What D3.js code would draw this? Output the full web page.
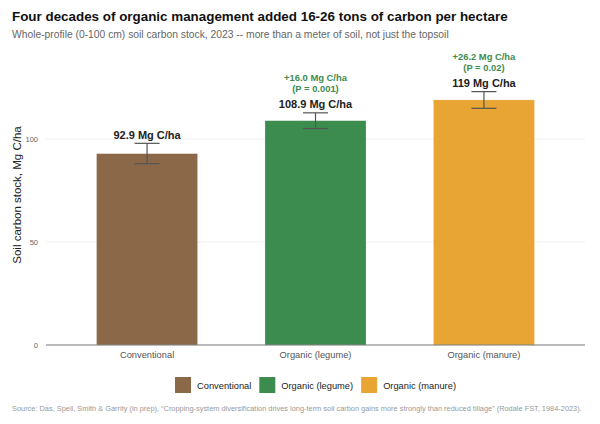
<!DOCTYPE html>
<html>
<head>
<meta charset="UTF-8">
<title>Soil carbon stock</title>
<script src="https://d3js.org/d3.v7.min.js"></script>
<style>
  body { margin: 0; background: #fff; }
  svg text { font-family: "Liberation Sans", Arial, sans-serif; }
</style>
</head>
<body>
<div id="chart"></div>
<script>
const categories = ["Conventional", "Organic (legume)", "Organic (manure)"];
const means = [92.9, 108.9, 119];
const errLow = [88.0, 105.1, 114.9];
const errHigh = [97.9, 112.7, 123.0];
const valueLabels = ["92.9 Mg C/ha", "108.9 Mg C/ha", "119 Mg C/ha"];
const gainLabels = ["", "+16.0 Mg C/ha", "+26.2 Mg C/ha"];
const pLabels = ["", "(P = 0.001)", "(P = 0.02)"];
const yTicks = [0, 50, 100];
const colors = ["#8B6848", "#3D8C4F", "#E8A534"];

const width = 600, height = 424;
const plot = {left: 46, right: 585, top: 139, bottom: 345};

const svg = d3.select("#chart").append("svg")
    .attr("width", width)
    .attr("height", height);

// Title + subtitle
svg.append("text")
    .attr("x", 12).attr("y", 21)
    .style("font-size", "13.4px").style("font-weight", "bold").attr("fill", "#111")
    .text("Four decades of organic management added 16-26 tons of carbon per hectare");
svg.append("text")
    .attr("x", 12).attr("y", 37.5)
    .style("font-size", "10.3px").attr("fill", "#666")
    .text("Whole-profile (0-100 cm) soil carbon stock, 2023 -- more than a meter of soil, not just the topsoil");

// scales
const x = d3.scaleBand()
    .domain(categories)
    .range([plot.left, plot.right])
    .paddingInner(0.4)
    .paddingOuter(0.3);
const y = d3.scaleLinear()
    .domain([0, 100])
    .range([plot.bottom, plot.top]);

// gridlines
svg.append("g")
  .selectAll("line")
  .data(yTicks.filter(d => d > 0))
  .join("line")
    .attr("x1", plot.left).attr("x2", plot.right)
    .attr("y1", d => y(d)).attr("y2", d => y(d))
    .attr("stroke", "#ececec").attr("stroke-width", 0.8);

// Y axis
const yAxis = svg.append("g")
    .attr("transform", `translate(${plot.left},0)`)
    .call(d3.axisLeft(y).tickValues(yTicks).tickSize(0).tickPadding(8));
yAxis.select(".domain").remove();
yAxis.selectAll("text")
    .style("font-size", "7.5px").attr("fill", "#666");

svg.append("text")
    .attr("transform", `translate(21,${(plot.top + plot.bottom) / 2 - 47}) rotate(-90)`)
    .attr("text-anchor", "middle")
    .style("font-size", "11.5px").attr("fill", "#222")
    .text("Soil carbon stock, Mg C/ha");

// bars
svg.append("g")
  .selectAll("rect")
  .data(categories)
  .join("rect")
    .attr("x", d => x(d))
    .attr("width", x.bandwidth())
    .attr("y", (d, i) => y(means[i]))
    .attr("height", (d, i) => y(0) - y(means[i]))
    .attr("fill", (d, i) => colors[i])
    .attr("stroke", "#ffffff").attr("stroke-opacity", 0.4).attr("stroke-width", 0.6);

// X axis
const xAxis = svg.append("g")
    .attr("transform", `translate(0,${plot.bottom})`)
    .call(d3.axisBottom(x).tickSize(0).tickPadding(6));
xAxis.select(".domain").remove();
xAxis.selectAll("text")
    .style("font-size", "9.3px").attr("fill", "#555");
svg.append("line")
    .attr("x1", plot.left).attr("x2", plot.right)
    .attr("y1", y(0)).attr("y2", y(0))
    .attr("stroke", "#777").attr("stroke-width", 1.2);

// error bars
const capHalf = 12.5;
const eb = svg.append("g").attr("stroke", "#555").attr("stroke-width", 1.2);
categories.forEach((c, i) => {
    const cx = x(c) + x.bandwidth() / 2;
    eb.append("line").attr("x1", cx).attr("x2", cx).attr("y1", y(errLow[i])).attr("y2", y(errHigh[i]));
    eb.append("line").attr("x1", cx - capHalf).attr("x2", cx + capHalf).attr("y1", y(errLow[i])).attr("y2", y(errLow[i]));
    eb.append("line").attr("x1", cx - capHalf).attr("x2", cx + capHalf).attr("y1", y(errHigh[i])).attr("y2", y(errHigh[i]));
});

// value labels and gains
categories.forEach((c, i) => {
    const cx = x(c) + x.bandwidth() / 2;
    const base = y(errHigh[i]) - 4.5;
    svg.append("text")
        .attr("x", cx).attr("y", base)
        .attr("text-anchor", "middle")
        .style("font-size", "11px").style("font-weight", "bold").attr("fill", "#222")
        .text(valueLabels[i]);
    if (gainLabels[i]) {
        svg.append("text")
            .attr("x", cx).attr("y", base - 27)
            .attr("text-anchor", "middle")
            .style("font-size", "9.4px").style("font-weight", "bold").attr("fill", "#3D8C4F")
            .text(gainLabels[i]);
        svg.append("text")
            .attr("x", cx).attr("y", base - 16)
            .attr("text-anchor", "middle")
            .style("font-size", "9.4px").style("font-weight", "bold").attr("fill", "#3D8C4F")
            .text(pLabels[i]);
    }
});

// legend
const legend = svg.append("g");
let lx = 0;
categories.forEach((c, i) => {
    const g = legend.append("g").attr("transform", `translate(${lx},0)`);
    g.append("rect").attr("x", 0).attr("y", 377).attr("width", 16).attr("height", 16)
        .attr("fill", colors[i]);
    const t = g.append("text").attr("x", 22).attr("y", 388.5)
        .style("font-size", "9.3px").attr("fill", "#222")
        .text(c);
    lx += 22 + t.node().getComputedTextLength() + 8;
});
const lw = lx - 8;
legend.attr("transform", `translate(${(plot.left + plot.right) / 2 - lw / 2},0)`);

// source
svg.append("text")
    .attr("x", 12).attr("y", 411)
    .style("font-size", "7.4px").attr("fill", "#999")
    .text("Source: Das, Spell, Smith & Garrity (in prep), \u201cCropping-system diversification drives long-term soil carbon gains more strongly than reduced tillage\u201d (Rodale FST, 1984-2023).");
</script>
</body>
</html>
